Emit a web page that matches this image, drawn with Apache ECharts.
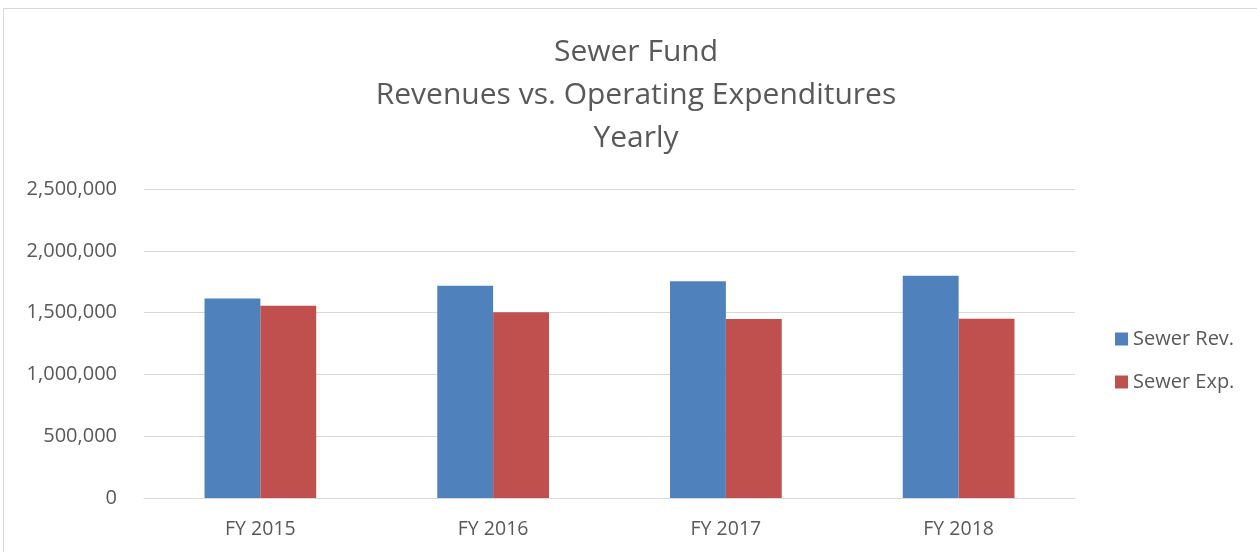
<!DOCTYPE html>
<html>
<head>
<meta charset="utf-8">
<script src="https://cdn.jsdelivr.net/npm/echarts@6/dist/echarts.min.js"></script>
<style>
  html, body { margin: 0; padding: 0; background: #fff; }
  #frame { position: absolute; left: 3px; top: 8px; width: 1300px; height: 600px; border: 1px solid #d9d9d9; box-sizing: border-box; }
  #chart { position: absolute; left: 0; top: 0; width: 1257px; height: 552px; }
</style>
</head>
<body>
<div id="frame"></div>
<div id="chart"></div>
<script>
var years = ['FY 2015', 'FY 2016', 'FY 2017', 'FY 2018'];
var sewerRev = [1615000, 1718000, 1753000, 1798000];
var sewerExp = [1555000, 1502000, 1448000, 1451000];

var chart = echarts.init(document.getElementById('chart'));

var textColor = '#595959';

var option = {
  animation: false,
  textStyle: { fontFamily: '"Open Sans", sans-serif' },
  title: {
    text: 'Sewer Fund\nRevenues vs. Operating Expenditures\nYearly',
    left: 631,
    textAlign: 'center',
    top: 26,
    textStyle: { fontSize: 30, fontWeight: 'normal', color: textColor, lineHeight: 43, fontFamily: '"Open Sans", sans-serif' }
  },
  legend: {
    orient: 'vertical',
    left: 1110,
    top: 324,
    itemWidth: 13,
    itemHeight: 13,
    itemGap: 23,
    icon: 'rect',
    textStyle: { fontSize: 20, color: textColor },
    data: ['Sewer Rev.', 'Sewer Exp.']
  },
  grid: { left: 144, right: 182, top: 189, bottom: 54, containLabel: false },
  xAxis: {
    type: 'category',
    data: years,
    axisLine: { lineStyle: { color: '#d9d9d9' } },
    axisTick: { show: false },
    axisLabel: { fontSize: 19.5, color: textColor, margin: 21 }
  },
  yAxis: {
    type: 'value',
    min: 0,
    max: 2500000,
    interval: 500000,
    axisLine: { show: false },
    axisTick: { show: false },
    splitLine: { lineStyle: { color: '#d9d9d9', width: 1 } },
    axisLabel: {
      fontSize: 20,
      color: textColor,
      margin: 27,
      formatter: function (v) { return v.toLocaleString('en-US'); }
    }
  },
  series: [
    {
      name: 'Sewer Rev.',
      type: 'bar',
      data: sewerRev,
      barGap: '0%',
      barCategoryGap: '52%',
      itemStyle: { color: '#4f81bd' }
    },
    {
      name: 'Sewer Exp.',
      type: 'bar',
      data: sewerExp,
      itemStyle: { color: '#c0504d' }
    }
  ]
};

chart.setOption(option);
</script>
</body>
</html>
